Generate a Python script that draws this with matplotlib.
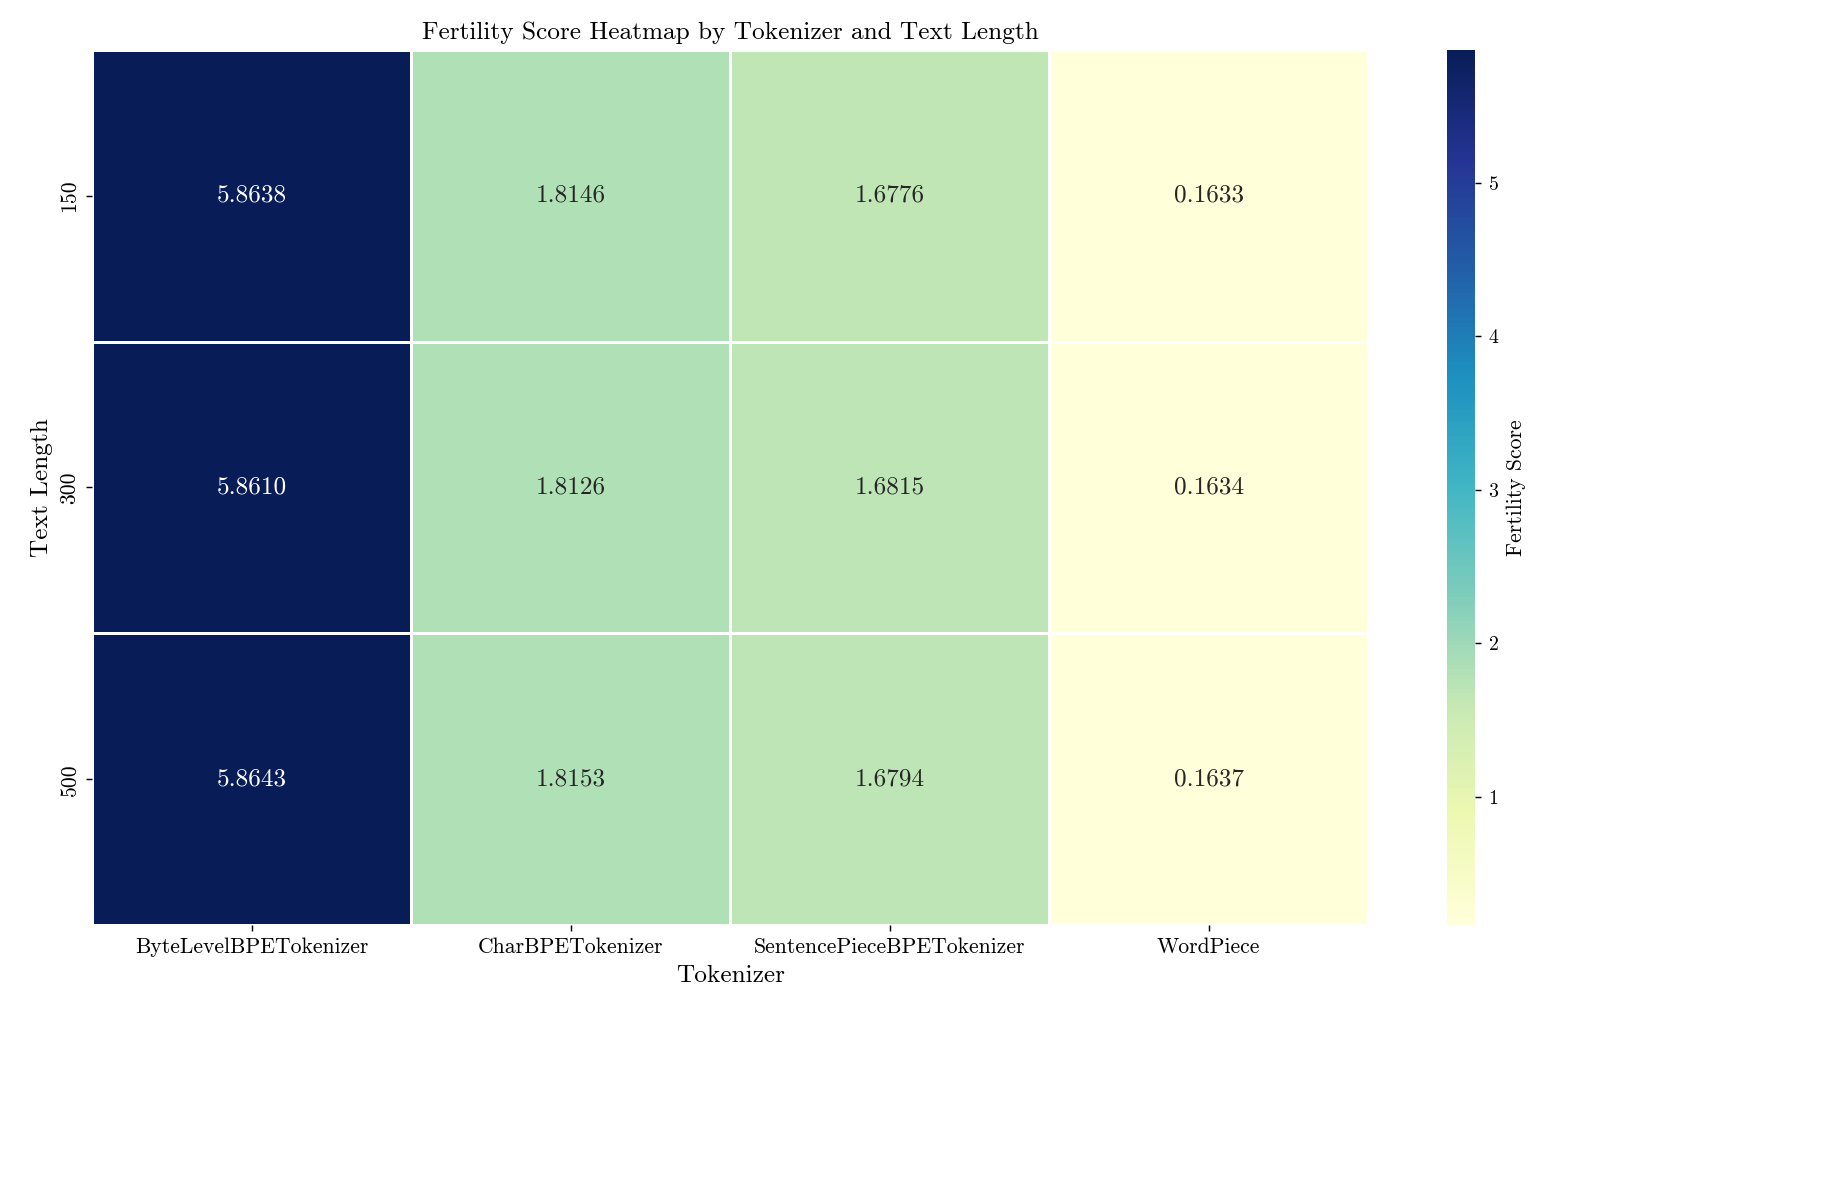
import matplotlib
matplotlib.use("Agg")
import matplotlib.pyplot as plt
import seaborn as sns
import numpy as np

tokenizers = ["ByteLevelBPETokenizer", "CharBPETokenizer", "SentencePieceBPETokenizer", "WordPiece"]
lengths = ["150", "300", "500"]
row_150 = [5.8638, 1.8146, 1.6776, 0.1633]
row_300 = [5.8610, 1.8126, 1.6815, 0.1634]
row_500 = [5.8643, 1.8153, 1.6794, 0.1637]

plt.rcParams['font.family'] = 'serif'
plt.rcParams['font.serif'] = ['cmr10', 'DejaVu Serif']
plt.rcParams['mathtext.fontset'] = 'cm'
plt.rcParams['axes.formatter.use_mathtext'] = True
plt.rcParams['axes.unicode_minus'] = False

data = np.array([row_150, row_300, row_500])
fig = plt.figure(figsize=(14.01, 9.07), dpi=130)
ax = fig.add_axes([92/1821, 1 - 925/1179, (1368-92)/1821, (925-50)/1179])
cax = fig.add_axes([1447/1821, 1 - 925/1179, 28/1821, (925-50)/1179])
sns.heatmap(data, ax=ax, cbar_ax=cax, cmap="YlGnBu", annot=True, fmt=".4f",
            linewidths=1.5, linecolor="white", xticklabels=tokenizers, yticklabels=lengths,
            annot_kws={"fontsize": 14}, cbar_kws={"label": "Fertility Score"})
ax.set_title("Fertility Score Heatmap by Tokenizer and Text Length", fontsize=14)
ax.set_xlabel("Tokenizer", fontsize=14)
ax.set_ylabel("Text Length", fontsize=14)
ax.tick_params(labelsize=12)
cax.tick_params(labelsize=11)
cax.yaxis.label.set_size(12)
fig.savefig("out.png", dpi=130)
